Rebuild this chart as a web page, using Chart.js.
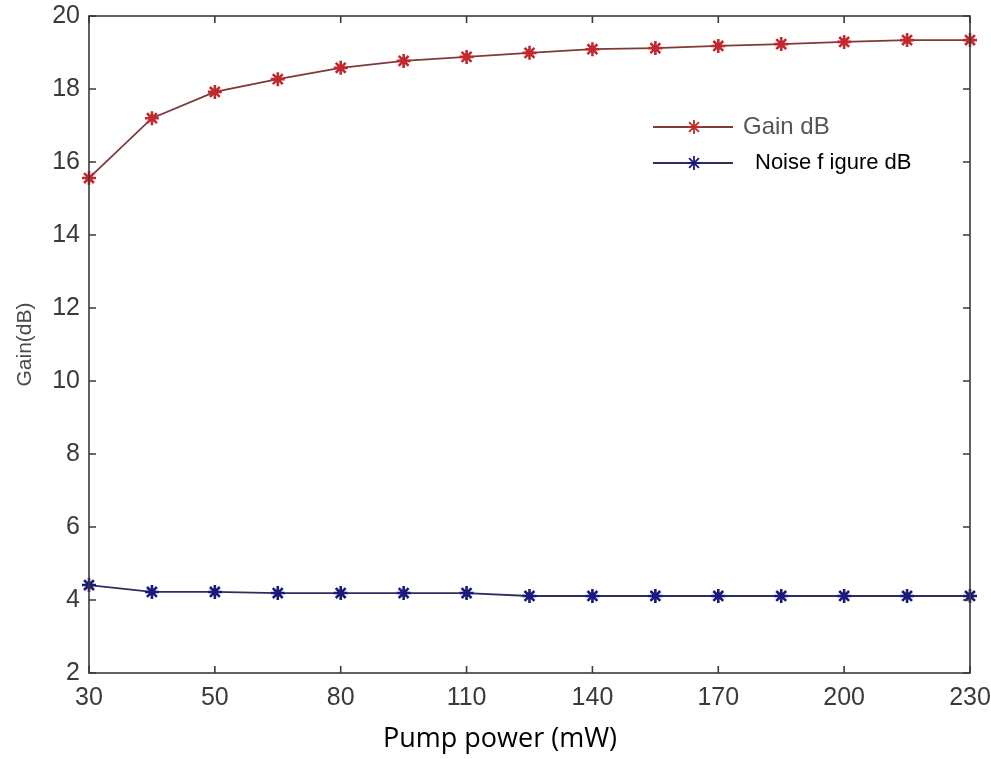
<!DOCTYPE html>
<html>
<head>
<meta charset="utf-8">
<script src="https://cdn.jsdelivr.net/npm/chart.js@4.4.1/dist/chart.umd.min.js"></script>
<style>
  html, body { margin: 0; padding: 0; background: #fff; }
  #wrap { width: 991px; height: 759px; position: relative; }
</style>
</head>
<body>
<div id="wrap"><canvas id="gainChart"></canvas></div>
<script>
// pump power steps (mW) and measured values
const pumpPower = [30, 40, 50, 65, 80, 95, 110, 125, 140, 155, 170, 185, 200, 215, 230];
const gainDb = [15.56, 17.2, 17.92, 18.27, 18.58, 18.77, 18.88, 18.99, 19.09, 19.12, 19.18, 19.23, 19.29, 19.34, 19.34];
const noiseFigureDb = [4.41, 4.22, 4.22, 4.19, 4.19, 4.19, 4.19, 4.11, 4.11, 4.11, 4.11, 4.11, 4.11, 4.11, 4.11];
const seriesNames = ["Gain dB", "Noise f igure dB"];
const yTicks = [2, 4, 6, 8, 10, 12, 14, 16, 18, 20];
const xTitle = "Pump power (mW)";
const yTitle = "Gain(dB)";

const gainLine = "#7c3a3a", gainMark = "#c02a2e";
const nfLine = "#2e2e5e", nfMark = "#1a1a7a";

// box around the axes with inward tick marks, matlab style
const framePlugin = {
  id: "frame",
  afterDatasetsDraw(chart) {
    const { ctx, chartArea: a, scales } = chart;
    const len = 7;
    ctx.save();
    ctx.strokeStyle = "#3a3a3a";
    ctx.lineWidth = 1.6;
    ctx.strokeRect(a.left, a.top, a.right - a.left, a.bottom - a.top);
    ctx.beginPath();
    yTicks.forEach(v => {
      const y = scales.y.getPixelForValue(v);
      ctx.moveTo(a.left, y); ctx.lineTo(a.left + len, y);
      ctx.moveTo(a.right, y); ctx.lineTo(a.right - len, y);
    });
    pumpPower.forEach((p, i) => {
      if (i % 2) return;
      const x = scales.x.getPixelForValue(i);
      ctx.moveTo(x, a.bottom); ctx.lineTo(x, a.bottom - len);
      ctx.moveTo(x, a.top); ctx.lineTo(x, a.top + len);
    });
    ctx.stroke();
    ctx.restore();
  },
  afterDraw(chart) {
    const { ctx } = chart;
    ctx.save();
    // legend inside the axes
    const rows = [
      { y: 127, line: gainLine, mark: gainMark, text: seriesNames[0], font: "24px 'Liberation Sans', Arial", color: "#555", tx: 743 },
      { y: 163, line: nfLine, mark: nfMark, text: seriesNames[1], font: "22px 'Liberation Sans', Arial", color: "#000", tx: 755 }
    ];
    rows.forEach(r => {
      ctx.strokeStyle = r.line;
      ctx.lineWidth = 1.8;
      ctx.beginPath();
      ctx.moveTo(653, r.y); ctx.lineTo(733, r.y);
      ctx.stroke();
      ctx.strokeStyle = r.mark;
      ctx.fillStyle = r.mark;
      Chart.helpers.drawPoint(ctx, { pointStyle: "star", radius: 7, borderWidth: 2.6, rotation: 0 }, 694, r.y);
      ctx.font = r.font;
      ctx.fillStyle = r.color;
      ctx.textAlign = "left";
      ctx.textBaseline = "middle";
      ctx.fillText(r.text, r.tx, r.y);
    });
    // x axis title
    ctx.font = "27px 'Open Sans'";
    ctx.fillStyle = "#000";
    ctx.textAlign = "center";
    ctx.textBaseline = "middle";
    ctx.fillText(xTitle, 500, 739);
    ctx.restore();
  }
};

const seriesStyle = (line, mark) => ({
  borderColor: line,
  borderWidth: 1.8,
  pointStyle: "star",
  pointRadius: 7,
  pointBorderWidth: 2.6,
  pointBorderColor: mark,
  pointBackgroundColor: mark,
  tension: 0,
  clip: false
});

new Chart(document.getElementById("gainChart"), {
  type: "line",
  data: {
    labels: pumpPower.map(String),
    datasets: [
      Object.assign({ label: seriesNames[0], data: gainDb }, seriesStyle(gainLine, gainMark)),
      Object.assign({ label: seriesNames[1], data: noiseFigureDb }, seriesStyle(nfLine, nfMark))
    ]
  },
  options: {
    responsive: true,
    maintainAspectRatio: false,
    animation: false,
    layout: { padding: { top: 16, right: 21, left: 0, bottom: 0 } },
    plugins: { legend: { display: false }, tooltip: { enabled: false } },
    scales: {
      x: {
        type: "category",
        offset: false,
        grid: { display: false, drawTicks: false },
        border: { display: false },
        ticks: {
          autoSkip: false,
          maxRotation: 0,
          padding: 10,
          color: "#3a3a3a",
          font: { family: "'Liberation Sans', Arial", size: 25 },
          callback: (v, i) => (i % 2 ? "" : pumpPower[i])
        },
        afterFit: s => {
          s.height = 86;
          s.paddingLeft = 0;
          s.paddingRight = 0;
        }
      },
      y: {
        min: 2,
        max: 20,
        grid: { display: false, drawTicks: false },
        border: { display: false },
        ticks: {
          stepSize: 2,
          padding: 9,
          color: "#3a3a3a",
          font: { family: "'Liberation Sans', Arial", size: 25 }
        },
        title: {
          display: true,
          text: yTitle,
          color: "#4a4a4a",
          padding: { top: 13, bottom: 0 },
          font: { family: "'Liberation Sans', Arial", size: 21 }
        },
        afterFit: s => {
          s.width = 89;
          s.paddingTop = 0;
          s.paddingBottom = 0;
        }
      }
    }
  },
  plugins: [framePlugin]
});
</script>
</body>
</html>
